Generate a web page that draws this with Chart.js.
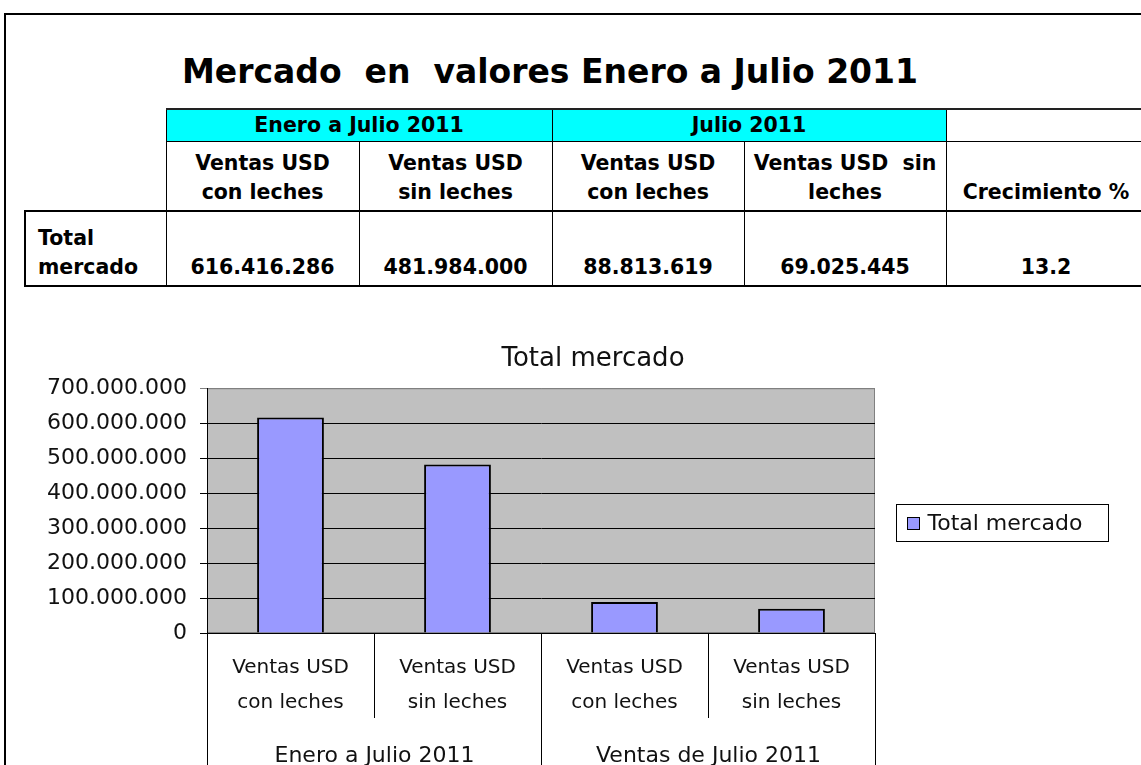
<!DOCTYPE html>
<html>
<head>
<meta charset="utf-8">
<script src="https://cdn.jsdelivr.net/npm/chart.js@4.4.0/dist/chart.umd.min.js"></script>
<style>
  body { margin: 0; width: 1141px; height: 765px; overflow: hidden; background: #fff; position: relative; font-family: "DejaVu Sans", sans-serif; color: #000; }
  #frame { position: absolute; left: 4px; top: 13px; width: 1200px; height: 800px; border-top: 2px solid #000; border-left: 2px solid #000; }
  #title { position: absolute; left: 0; top: 52px; width: 1100px; text-align: center; font-weight: bold; font-size: 33px; line-height: 40px; white-space: pre; }
  #tbl { position: absolute; left: 24px; top: 108px; border-collapse: collapse; table-layout: fixed; width: 1121px; font-weight: bold; font-size: 20.5px; line-height: 29px; }
  #tbl td { border: 1px solid #000; text-align: center; vertical-align: bottom; padding: 0 0 3px 0; white-space: nowrap; overflow: hidden; }
  #tbl tr.r1 { height: 32px; }
  #tbl tr.r2 { height: 70px; }
  #tbl tr.r3 { height: 75px; }
  #tbl tr.r1 td { vertical-align: middle; padding: 0; border-top: 2px solid #222; }
  #tbl td.cyan { background: #00FFFF; }
  #tbl td.blank, #tbl tr.r1 td.blank { border: none; }
  #tbl tr.r3 td { border-top: 2px solid #000; border-bottom: 2px solid #000; }
  #tbl td.rowhead { text-align: left; padding-left: 12px; border-left: 2px solid #000; }
  #chartBox { position: absolute; left: 0; top: 320px; width: 1141px; height: 445px; }
</style>
</head>
<body>
<div id="frame"></div>
<div id="title">Mercado  en  valores Enero a Julio 2011</div>
<table id="tbl">
  <colgroup><col style="width:141px"><col style="width:193px"><col style="width:193px"><col style="width:192px"><col style="width:202px"><col style="width:200px"></colgroup>
  <tr class="r1"><td class="blank"></td><td class="cyan" colspan="2">Enero a Julio 2011</td><td class="cyan" colspan="2">Julio 2011</td><td></td></tr>
  <tr class="r2"><td class="blank"></td><td>Ventas USD<br>con leches</td><td>Ventas USD<br>sin leches</td><td>Ventas USD<br>con leches</td><td>Ventas USD&nbsp; sin<br>leches</td><td>Crecimiento %</td></tr>
  <tr class="r3"><td class="rowhead">Total<br>mercado</td><td id="v0"></td><td id="v1"></td><td id="v2"></td><td id="v3"></td><td id="vc"></td></tr>
</table>
<div id="chartBox"><canvas id="chart"></canvas></div>
<script>
// Data
const categories = [
    ['Ventas USD', 'con leches'],
    ['Ventas USD', 'sin leches'],
    ['Ventas USD', 'con leches'],
    ['Ventas USD', 'sin leches']
];
const groupLabels = ['Enero a Julio 2011', 'Ventas de Julio 2011'];
const groupSizes = [2, 2];
const totalMercado = [616416286, 481984000, 88813619, 69025445];
const crecimiento = '13.2';
const yMax = 700000000;
const yStep = 100000000;

// number with dots as thousands separator
function fmt(n) {
    return String(n).replace(/\B(?=(\d{3})+(?!\d))/g, '.');
}

// Table values
totalMercado.forEach((v, i) => {
    document.getElementById('v' + i).textContent = fmt(v);
});
document.getElementById('vc').textContent = crecimiento;

Chart.defaults.font.family = '"DejaVu Sans", sans-serif';
Chart.defaults.color = '#111';

// gray plot background
const plotArea = {
    id: 'plotArea',
    beforeDraw(chart) {
        const { ctx, chartArea: a } = chart;
        ctx.save();
        ctx.fillStyle = '#C0C0C0';
        ctx.fillRect(a.left, a.top, a.width, a.height);
        ctx.strokeStyle = '#808080';
        ctx.lineWidth = 1;
        ctx.strokeRect(a.left + 0.5, a.top + 0.5, a.width - 1, a.height - 1);
        ctx.restore();
    }
};

// separators between categories and the group labels underneath
const categoryGroups = {
    id: 'categoryGroups',
    afterDraw(chart) {
        const { ctx } = chart;
        const x = chart.scales.x;
        const bottom = chart.chartArea.bottom;
        const step = x.getPixelForValue(1) - x.getPixelForValue(0);
        const edge = i => Math.round(x.getPixelForValue(i) - step / 2) + 0.5;
        const groupEdges = [0];
        groupSizes.reduce((acc, n) => { groupEdges.push(acc + n); return acc + n; }, 0);

        ctx.save();
        ctx.strokeStyle = '#000';
        ctx.lineWidth = 1;
        for (let i = 0; i <= categories.length; i++) {
            const px = edge(i);
            ctx.beginPath();
            ctx.moveTo(px, bottom);
            ctx.lineTo(px, groupEdges.includes(i) ? chart.height : bottom + 85);
            ctx.stroke();
        }
        ctx.fillStyle = '#111';
        ctx.font = '22px "DejaVu Sans", sans-serif';
        ctx.textAlign = 'center';
        ctx.textBaseline = 'middle';
        groupLabels.forEach((g, gi) => {
            const cx = (edge(groupEdges[gi]) + edge(groupEdges[gi + 1])) / 2;
            ctx.fillText(g, cx, x.top + 123);
        });
        ctx.restore();
    }
};

// legend in a box on the right
const boxLegend = {
    id: 'boxLegend',
    afterDraw(chart) {
        const { ctx, chartArea: a } = chart;
        const ds = chart.data.datasets[0];
        const w = 212, h = 37;
        const left = Math.round(a.right + 21) + 0.5;
        const top = Math.round((a.top + a.bottom) / 2 + 12 - h / 2) + 0.5;
        ctx.save();
        ctx.fillStyle = '#fff';
        ctx.strokeStyle = '#000';
        ctx.lineWidth = 1;
        ctx.fillRect(left, top, w, h);
        ctx.strokeRect(left, top, w, h);
        ctx.fillStyle = ds.backgroundColor;
        ctx.fillRect(left + 11, top + 13, 12, 12);
        ctx.strokeRect(left + 11, top + 13, 12, 12);
        ctx.fillStyle = '#111';
        ctx.font = '22px "DejaVu Sans", sans-serif';
        ctx.textAlign = 'left';
        ctx.textBaseline = 'middle';
        ctx.fillText(ds.label, left + 31, top + h / 2 + 1);
        ctx.restore();
    }
};

const config = {
    type: 'bar',
    data: {
        labels: categories,
        datasets: [{
            label: 'Total mercado',
            data: totalMercado,
            backgroundColor: '#9999FF',
            borderColor: '#000',
            borderWidth: 2,
            categoryPercentage: 1,
            barPercentage: 0.4
        }]
    },
    options: {
        responsive: true,
        maintainAspectRatio: false,
        animation: false,
        layout: { padding: { left: 45, right: 0, top: 0, bottom: 0 } },
        plugins: {
            legend: { display: false },
            tooltip: { enabled: false },
            title: {
                display: true,
                text: 'Total mercado',
                color: '#111',
                font: { size: 26, weight: 'normal' },
                padding: { top: 24, bottom: 13 }
            }
        },
        scales: {
            x: {
                grid: { display: false, drawTicks: false },
                border: { display: true, color: '#000', width: 1 },
                ticks: { font: { size: 20, lineHeight: 1.75 }, padding: 17, maxRotation: 0, autoSkip: false },
                afterFit(s) { s.height = 132; }
            },
            y: {
                min: 0,
                max: yMax,
                ticks: { stepSize: yStep, font: { size: 22 }, padding: 13, callback: v => fmt(v) },
                grid: {
                    color: c => (c.tick && c.tick.value === yMax ? '#808080' : '#000'),
                    tickLength: 7
                },
                border: { color: '#000' },
                afterFit(s) { s.width = 162; }
            },
            legendSpace: {
                type: 'linear',
                position: 'right',
                grid: { display: false },
                ticks: { display: false },
                border: { display: false },
                afterFit(s) { s.width = 266; }
            }
        }
    },
    plugins: [plotArea, categoryGroups, boxLegend]
};

const chart = new Chart(document.getElementById('chart'), config);
</script>
</body>
</html>
